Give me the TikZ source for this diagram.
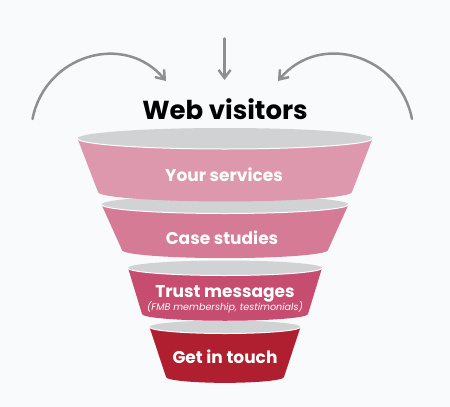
\documentclass[tikz,border=0pt]{standalone}
\usepackage{fontspec}
\setmainfont{Poppins}
\usepackage{tikz}
\usetikzlibrary{arrows.meta,positioning,calc}

\definecolor{bgcol}{HTML}{F8FAFC}
\definecolor{arrowgrey}{HTML}{8F8F8F}
\definecolor{rimgrey}{HTML}{D1D2D4}
\definecolor{tierA}{HTML}{DE98AD}
\definecolor{tierB}{HTML}{D57B95}
\definecolor{tierC}{HTML}{C64C70}
\definecolor{tierD}{HTML}{B01F2F}

\begin{document}
\begin{tikzpicture}[x=1pt,y=1pt,
  flow/.style={draw=arrowgrey,line width=2.5pt,line cap=round,
    -{Straight Barb[length=8pt,width=12pt,line width=2.5pt]}},
  tierlabel/.style={anchor=base,text=white,font=\bfseries\fontsize{17}{20}\selectfont,inner sep=0pt}]
\fill[bgcol] (0,0) rectangle (450,-407);
% arrows into the funnel
\coordinate (leftfoot) at (32.5,-119);
\coordinate (lefttip) at (166,-81);
\coordinate (midtop) at (224.5,-38.5);
\coordinate (midtip) at (224.5,-80);
\coordinate (rightfoot) at (412,-119);
\coordinate (righttip) at (278,-81);
\draw[flow] (leftfoot) to[out=79,in=130,looseness=1.2] (lefttip);
\draw[flow] (midtop) -- (midtip);
\draw[flow] (rightfoot) to[out=101,in=50,looseness=1.2] (righttip);
\node[anchor=base,font=\bfseries\fontsize{26}{30}\selectfont,inner sep=0pt] (title) at (225,-119) {Web visitors};
% funnel tiers, lowest first
\foreach \ty/\tw/\by/\bw/\r/\col in {327/75.5/377/59/6.5/tierD, 268/97/314/83/7.5/tierC,
    204.5/123.5/250/103/9/tierB, 138.5/147.5/192/127/10.5/tierA}{
  \fill[rimgrey] (225,-\ty) ellipse [x radius=\tw, y radius=\r];
  \fill[\col] (225-\tw,-\ty) -- (225-\bw,-\by)
    arc[start angle=180,end angle=360,x radius=\bw,y radius=0.9*\r] -- (225+\tw,-\ty)
    arc[start angle=0,end angle=-180,x radius=\tw,y radius=\r] -- cycle;
  \draw[white,line width=1pt] (225+\tw,-\ty) arc[start angle=0,end angle=-180,x radius=\tw,y radius=\r];
}
\node[tierlabel] (services) at (224,-181) {Your services};
\node[tierlabel] (cases) at (222,-244) {Case studies};
\node[tierlabel] (trust) at (225,-297.5) {Trust messages};
\node[anchor=base,text=white,font=\itshape\fontsize{9.6}{11}\selectfont,inner sep=0pt] (trustsub) at (225,-310.5) {(FMB membership, testimonials)};
\node[tierlabel] (contact) at (225,-363) {Get in touch};
\end{tikzpicture}
\end{document}
